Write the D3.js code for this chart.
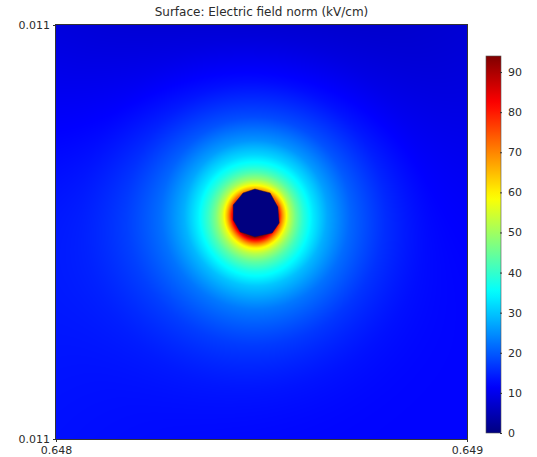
<!DOCTYPE html>
<html>
<head>
<meta charset="utf-8">
<script src="https://cdn.jsdelivr.net/npm/d3@7"></script>
<style>
  body { margin: 0; background: #fff; }
  svg { display: block; font-family: "DejaVu Sans", sans-serif; }
</style>
</head>
<body>
<svg id="chart" width="537" height="457"></svg>
<script>
// ---- data ----
const titleText = "Surface: Electric field norm (kV/cm)";
const xDomain = [0.648, 0.649];
const yDomain = [0.010505, 0.011495];
const xTicks = [0.648, 0.649];
const yTicks = [0.010505, 0.011495];
const colorTicks = [0, 10, 20, 30, 40, 50, 60, 70, 80, 90];
const fieldMax = 94;

// conductor cross-section (hole) outline, data units
const holeX = [0.648484, 0.648521, 0.648540, 0.648543, 0.648526, 0.648484, 0.648448, 0.648431, 0.648431, 0.648455];
const holeY = [0.0111028, 0.0110933, 0.0110598, 0.0110215, 0.0109976, 0.0109880, 0.0110000, 0.0110287, 0.0110646, 0.0110933];
const holeCenter = [0.648486, 0.011045];

// radial field profiles (kV/cm) from the conductor centre, distance in µm
const fieldRadii = [58, 65, 73, 82, 97, 116, 140, 174, 230, 315, 424, 557, 726];
const fieldRight     = [80, 68, 60, 52, 45, 38, 33, 27, 21, 16, 12, 12, 12];
const fieldUpRight   = [70, 62, 56, 50, 43, 37, 32, 26, 19, 13, 9, 7, 7];
const fieldUp        = [64, 58, 53, 48, 42, 36, 31, 25, 18, 12, 7, 5, 5];
const fieldUpLeft    = [72, 64, 57, 51, 44, 38, 33, 27, 20, 14, 10, 8, 7];
const fieldLeft      = [82, 70, 61, 54, 46, 40, 34, 28, 22, 18, 15, 15, 15];
const fieldDownLeft  = [88, 76, 66, 58, 50, 43, 36, 29, 22, 17, 14, 13, 13];
const fieldDown      = [94, 84, 73, 62, 53, 45, 38, 31, 23, 17, 13, 12, 12];
const fieldDownRight = [86, 75, 65, 57, 49, 42, 36, 29, 22, 16, 13, 12, 12];

// ---- layout ----
const plot = { left: 56, right: 467, top: 25, bottom: 439 };
const bar = { left: 486, right: 501, top: 56, bottom: 433 };
const textColor = "#2b2b2b";

const svg = d3.select("#chart");

const x = d3.scaleLinear().domain(xDomain).range([plot.left, plot.right]);
const y = d3.scaleLinear().domain(yDomain).range([plot.bottom, plot.top]);

const jet = d3.scaleLinear()
  .domain([0, 0.125, 0.375, 0.5, 0.625, 0.875, 1].map(t => t * fieldMax))
  .range(["#000080", "#0000ff", "#00ffff", "#80ff80", "#ffff00", "#ff0000", "#800000"])
  .interpolate(d3.interpolateRgb)
  .clamp(true);

// field evaluation: smooth in radius per direction, then smooth around the circle
const profiles = [fieldRight, fieldUpRight, fieldUp, fieldUpLeft, fieldLeft, fieldDownLeft, fieldDown, fieldDownRight]
  .map(p => d3.interpolateBasis(p));
const rIndex = d3.scaleLinear()
  .domain(fieldRadii)
  .range(fieldRadii.map((d, i) => i / (fieldRadii.length - 1)))
  .clamp(true);

function fieldAt(px, py) {
  const dx = (px - holeCenter[0]) * 1e6;
  const dy = (py - holeCenter[1]) * 1e6;
  const r = Math.hypot(dx, dy);
  let a = Math.atan2(dy, dx) / (2 * Math.PI);
  if (a < 0) a += 1;
  const t = rIndex(r);
  const around = profiles.map(f => f(t));
  return d3.interpolateBasisClosed(around)(a);
}

// ---- surface raster ----
const w = plot.right - plot.left, h = plot.bottom - plot.top;
const canvas = document.createElement("canvas");
canvas.width = w; canvas.height = h;
const ctx = canvas.getContext("2d");
const img = ctx.createImageData(w, h);
for (let j = 0; j < h; j++) {
  const py = y.invert(plot.top + j + 0.5);
  for (let i = 0; i < w; i++) {
    const px = x.invert(plot.left + i + 0.5);
    const c = d3.rgb(jet(fieldAt(px, py)));
    const k = (j * w + i) * 4;
    img.data[k] = c.r; img.data[k + 1] = c.g; img.data[k + 2] = c.b; img.data[k + 3] = 255;
  }
}
ctx.putImageData(img, 0, 0);

svg.append("image")
  .attr("x", plot.left).attr("y", plot.top)
  .attr("width", w).attr("height", h)
  .attr("href", canvas.toDataURL());

// conductor hole
const holePts = holeX.map((d, i) => [x(d), y(holeY[i])]);
svg.append("path")
  .attr("d", d3.line()(holePts) + "Z")
  .attr("fill", jet(0))
  .attr("stroke", "#3a1010")
  .attr("stroke-opacity", 0.55)
  .attr("stroke-width", 0.8);

// frame
svg.append("rect")
  .attr("x", plot.left - 0.5).attr("y", plot.top - 0.5)
  .attr("width", w + 1).attr("height", h + 1)
  .attr("fill", "none").attr("stroke", "#333").attr("stroke-width", 1);

// title
svg.append("text")
  .attr("x", (plot.left + plot.right) / 2).attr("y", 16)
  .attr("text-anchor", "middle")
  .attr("font-size", 12).attr("fill", textColor)
  .text(titleText);

// axes
const fmt = d3.format(".3f");
const xAxis = svg.append("g")
  .attr("transform", `translate(0,${plot.bottom})`)
  .call(d3.axisBottom(x).tickValues(xTicks).tickFormat(fmt).tickSize(3).tickPadding(4));
const yAxis = svg.append("g")
  .attr("transform", `translate(${plot.left},0)`)
  .call(d3.axisLeft(y).tickValues(yTicks).tickFormat(fmt).tickSize(3).tickPadding(3));
[xAxis, yAxis].forEach(g => {
  g.select(".domain").remove();
  g.selectAll("line").attr("stroke", "#333");
  g.selectAll("text").attr("font-size", 11).attr("fill", textColor)
    .attr("font-family", "DejaVu Sans, sans-serif");
});

// colour legend
const cy = d3.scaleLinear().domain([0, fieldMax]).range([bar.bottom, bar.top]);
const defs = svg.append("defs");
const grad = defs.append("linearGradient")
  .attr("id", "jetbar").attr("x1", 0).attr("y1", 1).attr("x2", 0).attr("y2", 0);
d3.range(0, 1.0001, 0.02).forEach(t => {
  grad.append("stop").attr("offset", t).attr("stop-color", jet(t * fieldMax));
});
svg.append("rect")
  .attr("x", bar.left).attr("y", bar.top)
  .attr("width", bar.right - bar.left).attr("height", bar.bottom - bar.top)
  .attr("fill", "url(#jetbar)")
  .attr("stroke", "#555").attr("stroke-width", 0.6);
const cAxis = svg.append("g")
  .attr("transform", `translate(${bar.right},0)`)
  .call(d3.axisRight(cy).tickValues(colorTicks).tickFormat(d3.format("d")).tickSize(2).tickPadding(5));
cAxis.select(".domain").remove();
cAxis.selectAll("line").attr("stroke", "#333").attr("transform", "translate(-1,0)");
cAxis.selectAll("text").attr("font-size", 11).attr("fill", textColor)
  .attr("font-family", "DejaVu Sans, sans-serif");
</script>
</body>
</html>
